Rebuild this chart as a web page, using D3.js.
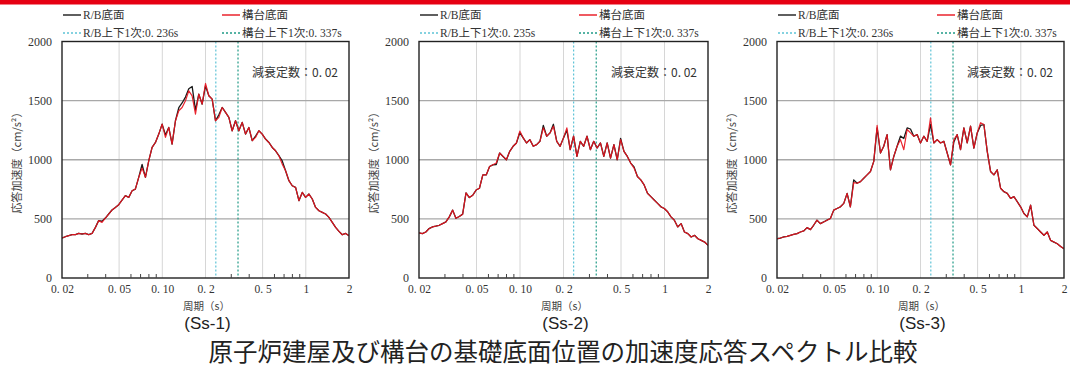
<!DOCTYPE html>
<html>
<head>
<meta charset="utf-8">
<script src="https://cdn.jsdelivr.net/npm/d3@7"></script>
<style>
  body { margin: 0; background: #fff; }
  svg { display: block; }
</style>
</head>
<body>
<svg id="chart" width="1070" height="367"></svg>
<script>
// Periods (s) shared by every spectrum, evenly spaced on a log axis
const periods = [
  0.0200,0.0211,0.0223,0.0235,0.0248,0.0261,0.0276,0.0291,0.0307,0.0324,
  0.0342,0.0360,0.0380,0.0401,0.0423,0.0446,0.0471,0.0497,0.0524,0.0553,
  0.0584,0.0616,0.0649,0.0685,0.0723,0.0763,0.0805,0.0849,0.0896,0.0945,
  0.0997,0.1052,0.1109,0.1170,0.1235,0.1303,0.1374,0.1450,0.1530,0.1614,
  0.1703,0.1796,0.1895,0.2000,0.2110,0.2226,0.2348,0.2478,0.2614,0.2758,
  0.2909,0.3069,0.3238,0.3416,0.3604,0.3802,0.4011,0.4232,0.4465,0.4710,
  0.4969,0.5243,0.5531,0.5835,0.6156,0.6495,0.6852,0.7229,0.7627,0.8046,
  0.8489,0.8955,0.9448,0.9968,1.0516,1.1094,1.1704,1.2348,1.3027,1.3744,
  1.4500,1.5297,1.6139,1.7026,1.7963,1.8951,2.0000
];

// Ss-1 response acceleration (cm/s²)
const ss1RB = [
  338,349,358,366,366,377,372,377,366,377,428,485,480,507,541,575,597,620,659,696,
  682,738,752,851,960,851,992,1104,1146,1217,1301,1210,1273,1132,1330,1440,1480,1530,1600,1620,
  1420,1555,1470,1625,1541,1513,1330,1380,1442,1400,1358,1245,1330,1245,1316,1217,1273,1161,1200,1245,
  1217,1175,1146,1104,1076,1034,990,907,823,780,766,654,724,682,710,668,597,569,555,541,
  513,470,428,394,366,377,358
];
const ss1Pier = [
  338,349,358,366,366,377,372,377,366,377,428,485,470,507,541,575,597,620,659,696,
  682,738,752,851,930,851,992,1104,1146,1217,1301,1189,1273,1132,1330,1414,1442,1499,1583,1540,
  1386,1555,1470,1645,1541,1513,1330,1358,1442,1400,1358,1245,1330,1245,1316,1217,1273,1161,1189,1245,
  1217,1175,1146,1104,1076,1034,963,907,823,780,766,654,724,682,710,668,597,569,555,541,
  513,470,428,394,366,377,358
];

// Ss-2 response acceleration (cm/s²)
const ss2RB = [
  381,375,389,418,432,438,446,460,474,517,574,505,520,540,720,680,700,744,759,872,
  872,943,957,960,1057,1028,1000,1071,1114,1142,1230,1185,1142,1170,1114,1128,1156,1290,1199,1227,
  1300,1156,1114,1185,1250,1085,1199,1028,1156,1114,1199,1085,1156,1099,1142,1028,1142,1014,1128,1000,
  1180,1071,1028,972,940,858,830,787,716,688,659,631,602,588,560,517,489,432,460,389,
  375,347,361,332,318,304,276
];
const ss2Pier = [
  381,375,389,418,432,438,446,460,474,517,574,505,520,540,720,680,700,744,759,872,
  872,943,957,972,1057,1028,1000,1071,1114,1142,1242,1185,1142,1170,1114,1128,1156,1270,1199,1227,
  1284,1156,1114,1185,1270,1085,1199,1028,1156,1114,1199,1085,1156,1099,1142,1028,1142,1014,1128,1000,
  1170,1071,1028,972,929,858,830,787,716,688,659,631,602,588,560,517,489,432,460,389,
  375,347,361,332,318,304,276
];

// Ss-3 response acceleration (cm/s²)
const ss3RB = [
  332,338,347,352,361,369,375,389,398,426,409,446,489,460,474,489,503,574,588,602,
  631,716,602,830,801,815,844,872,901,986,1270,1057,1114,1213,915,1028,1114,1200,1180,1270,
  1260,1199,1213,1142,1199,1156,1300,1142,1170,1142,1156,1057,957,1150,1213,1085,1270,1142,1284,1099,
  1227,1290,1298,1071,901,872,915,759,730,716,673,688,645,602,545,517,616,446,418,389,
  361,389,318,304,290,267,247
];
const ss3Pier = [
  332,338,347,352,361,369,375,389,398,426,409,446,489,460,474,489,503,574,588,602,
  631,716,602,807,801,815,844,872,901,986,1290,1057,1114,1213,915,1028,1114,1170,1085,1256,
  1227,1199,1213,1142,1199,1156,1355,1142,1170,1142,1156,1057,957,1170,1213,1085,1270,1142,1284,1099,
  1227,1313,1298,1071,901,872,915,759,730,716,673,688,645,602,545,517,616,446,418,389,
  361,389,318,304,290,267,247
];

// Vertical first-mode periods (s)
const rbModePeriods = [0.236, 0.235, 0.236];
const pierModePeriods = [0.337, 0.337, 0.337];
const panelNames = ["(Ss-1)", "(Ss-2)", "(Ss-3)"];

// Axis ticks
const xTickValues = [0.02, 0.05, 0.1, 0.2, 0.5, 1, 2];
const xTickLabels = ["0. 02", "0. 05", "0. 10", "0. 2", "0. 5", "1", "2"];
const xGridValues = [0.05, 0.1, 0.2, 0.5, 1];
const xMinorValues = [0.03, 0.04, 0.06, 0.07, 0.08, 0.09, 0.3, 0.4, 0.6, 0.7, 0.8, 0.9];
const yTickValues = [0, 500, 1000, 1500, 2000];
const yGridValues = [500, 1000, 1500];

const rbSeries = [ss1RB, ss2RB, ss3RB];
const pierSeries = [ss1Pier, ss2Pier, ss3Pier];

const serif = "'Liberation Serif', 'Noto Sans CJK JP', serif";
const cjk = "'Noto Sans CJK JP', sans-serif";
const colRB = "#1a1a1a";
const colPier = "#e8141e";
const colRBMode = "#5ec3d6";
const colPierMode = "#1f9a86";

const svg = d3.select("#chart");

// red band along the top edge
svg.append("rect").attr("x", 0).attr("y", 0).attr("width", 1070).attr("height", 4.5).attr("fill", "#e60012");

const frames = [
  { left: 62, right: 349 },
  { left: 419, right: 708 },
  { left: 777, right: 1064 }
];
const plotTop = 41.5, plotBottom = 278;

frames.forEach((f, p) => {
  const g = svg.append("g");
  const x = d3.scaleLog().domain([0.02, 2]).range([f.left, f.right]);
  const y = d3.scaleLinear().domain([0, 2000]).range([plotBottom, plotTop]);

  // vertical grid
  g.append("g").selectAll("line").data(xGridValues).join("line")
    .attr("x1", d => x(d)).attr("x2", d => x(d))
    .attr("y1", plotTop).attr("y2", plotBottom)
    .attr("stroke", "#d6d6d6").attr("stroke-width", 1);

  // horizontal grid
  g.append("g").selectAll("line").data(yGridValues).join("line")
    .attr("x1", f.left).attr("x2", f.right)
    .attr("y1", d => y(d)).attr("y2", d => y(d))
    .attr("stroke", "#a8a8a8").attr("stroke-width", 1.3);

  // first-mode period markers
  [[rbModePeriods[p], colRBMode], [pierModePeriods[p], colPierMode]].forEach(([t, c]) => {
    g.append("line")
      .attr("x1", x(t)).attr("x2", x(t))
      .attr("y1", plotTop).attr("y2", plotBottom)
      .attr("stroke", c).attr("stroke-width", 1.2)
      .attr("stroke-dasharray", "2,2");
  });

  // spectra
  const clipId = "clip" + p;
  svg.append("clipPath").attr("id", clipId).append("rect")
    .attr("x", f.left).attr("y", plotTop).attr("width", f.right - f.left).attr("height", plotBottom - plotTop);

  const line = vals => d3.line()
    .x((d, i) => x(periods[i]))
    .y(d => y(d))(vals);

  g.append("path").attr("d", line(rbSeries[p]))
    .attr("fill", "none").attr("stroke", colRB).attr("stroke-width", 1.3)
    .attr("stroke-linejoin", "round").attr("clip-path", `url(#${clipId})`);
  g.append("path").attr("d", line(pierSeries[p]))
    .attr("fill", "none").attr("stroke", colPier).attr("stroke-width", 1.2).attr("stroke-opacity", 0.92)
    .attr("stroke-linejoin", "round").attr("clip-path", `url(#${clipId})`);

  // frame
  g.append("rect")
    .attr("x", f.left).attr("y", plotTop).attr("width", f.right - f.left).attr("height", plotBottom - plotTop)
    .attr("fill", "none").attr("stroke", "#222").attr("stroke-width", 1.4);

  // minor ticks pointing into the plot
  const minor = g.append("g").attr("transform", `translate(0,${plotBottom})`)
    .call(d3.axisBottom(x).tickValues(xMinorValues).tickSize(-4).tickFormat(""));
  minor.select(".domain").remove();
  minor.selectAll("line").attr("stroke", "#444").attr("stroke-width", 1);

  // x tick labels
  const xa = g.append("g").attr("transform", `translate(0,${plotBottom})`)
    .call(d3.axisBottom(x).tickValues(xTickValues).tickSize(0).tickPadding(7)
      .tickFormat((d, i) => xTickLabels[i]));
  xa.select(".domain").remove();
  xa.selectAll("text").attr("font-family", serif).attr("font-size", 11.5).attr("fill", "#333");

  // y tick labels
  const ya = g.append("g").attr("transform", `translate(${f.left},0)`)
    .call(d3.axisLeft(y).tickValues(yTickValues).tickSize(0).tickPadding(10).tickFormat(d3.format("d")));
  ya.select(".domain").remove();
  ya.selectAll("text").attr("font-family", serif).attr("font-size", 12).attr("fill", "#333");

  // axis titles
  g.append("text")
    .attr("x", (f.left + f.right) / 2 + 1).attr("y", 305)
    .attr("text-anchor", "middle").attr("dominant-baseline", "central")
    .attr("font-family", cjk).attr("font-size", 10.5).attr("fill", "#444")
    .text("周期（s）");
  g.append("text")
    .attr("transform", `translate(${f.left - 46},160) rotate(-90)`)
    .attr("text-anchor", "middle").attr("dominant-baseline", "central")
    .attr("font-family", cjk).attr("font-size", 11).attr("fill", "#444")
    .text("応答加速度（cm/s²）");

  // damping note
  g.append("text")
    .attr("x", f.right - 11).attr("y", 71)
    .attr("text-anchor", "end").attr("dominant-baseline", "central")
    .attr("font-family", cjk).attr("font-size", 12).attr("fill", "#333")
    .text("減衰定数：0. 02");

  // panel caption
  g.append("text")
    .attr("x", (f.left + f.right) / 2 + 2).attr("y", 323)
    .attr("text-anchor", "middle").attr("dominant-baseline", "central")
    .attr("font-family", "'Liberation Sans', Arial, sans-serif").attr("font-size", 17).attr("fill", "#222")
    .text(panelNames[p]);

  // legend
  const legendItems = [
    { col: 0, row: 0, color: colRB, dash: null, label: "R/B底面" },
    { col: 1, row: 0, color: colPier, dash: null, label: "構台底面" },
    { col: 0, row: 1, color: colRBMode, dash: "2,2", label: "R/B上下1次:" + String(rbModePeriods[p]).replace(".", ". ") + "s" },
    { col: 1, row: 1, color: colPierMode, dash: "2,2", label: "構台上下1次:" + String(pierModePeriods[p]).replace(".", ". ") + "s" }
  ];
  legendItems.forEach(it => {
    const lx = f.left + 1 + it.col * 159;
    const ly = 15 + it.row * 18;
    g.append("line")
      .attr("x1", lx).attr("x2", lx + 18).attr("y1", ly).attr("y2", ly)
      .attr("stroke", it.color).attr("stroke-width", 1.4)
      .attr("stroke-dasharray", it.dash);
    g.append("text")
      .attr("x", lx + 20).attr("y", ly)
      .attr("dominant-baseline", "central")
      .attr("font-family", serif).attr("font-size", 11.5).attr("fill", "#333")
      .text(it.label);
  });
});

// overall title
svg.append("text")
  .attr("x", 563).attr("y", 350)
  .attr("text-anchor", "middle").attr("dominant-baseline", "central")
  .attr("font-family", cjk).attr("font-size", 24.5).attr("fill", "#222")
  .text("原子炉建屋及び構台の基礎底面位置の加速度応答スペクトル比較");
</script>
</body>
</html>
